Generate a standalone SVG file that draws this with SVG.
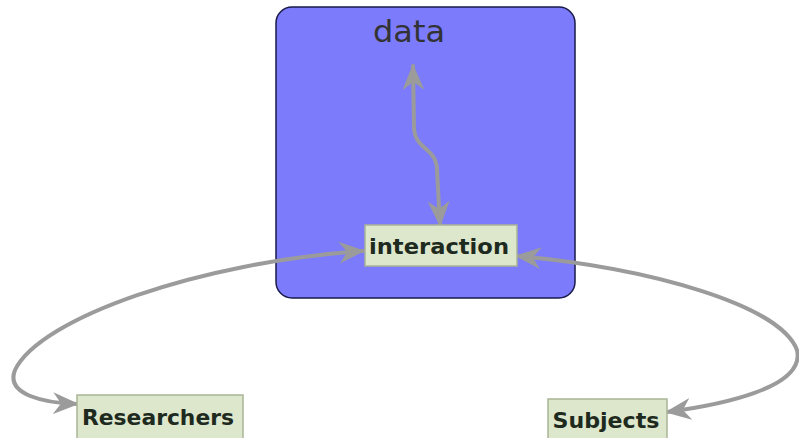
<svg xmlns="http://www.w3.org/2000/svg" width="799" height="438" viewBox="0 0 799 438">
<style>
.node rect{fill:#dde7cc;stroke:#a9b597;stroke-width:1.5}
.lbl{font-family:"DejaVu Sans",sans-serif;font-weight:bold;fill:#1e2a1e;font-size:21px;text-anchor:middle}
.edge{fill:none;stroke:#9b9b9b;stroke-width:4;stroke-linecap:round}
</style>
<defs>
<marker id="ah" viewBox="0 0 26 22" refX="24" refY="11" markerWidth="26" markerHeight="22" markerUnits="userSpaceOnUse" orient="auto-start-reverse">
<path d="M0,0 L26,11 L0,22 L8,11 z" fill="#9b9b9b"/>
</marker>
</defs>
<rect x="0" y="0" width="799" height="438" fill="#ffffff"/>
<g id="data">
<rect x="276" y="7" width="299" height="291" rx="16" ry="16" fill="#7b7bfb" stroke="#1a1a4a" stroke-width="1.5"/>
<text x="409" y="42" font-family="DejaVu Sans, sans-serif" font-size="31" fill="#333333" text-anchor="middle" textLength="72" lengthAdjust="spacingAndGlyphs">data</text>
</g>
<g id="connectors">
<path class="edge" d="M413,66 L414,128 C415,150 437,148 437,170 L440,225" marker-start="url(#ah)" marker-end="url(#ah)"/>
<path class="edge" d="M363,251 C200,262 40,318 15,370 C5,395 45,403 77,404" marker-start="url(#ah)" marker-end="url(#ah)"/>
<path class="edge" d="M517,256 C650,268 780,305 797,350 C806,388 720,405 667,412" marker-start="url(#ah)" marker-end="url(#ah)"/>
</g>
<g id="interaction" class="node">
<rect x="365" y="225" width="152" height="41"/>
<text class="lbl" x="439" y="254" textLength="140" lengthAdjust="spacingAndGlyphs">interaction</text>
</g>
<g id="researchers" class="node">
<rect x="77" y="395" width="166" height="45"/>
<text class="lbl" x="158" y="425" textLength="152" lengthAdjust="spacingAndGlyphs">Researchers</text>
</g>
<g id="subjects" class="node">
<rect x="548" y="399" width="119" height="41"/>
<text class="lbl" x="606" y="428" textLength="107" lengthAdjust="spacingAndGlyphs">Subjects</text>
</g>
</svg>
